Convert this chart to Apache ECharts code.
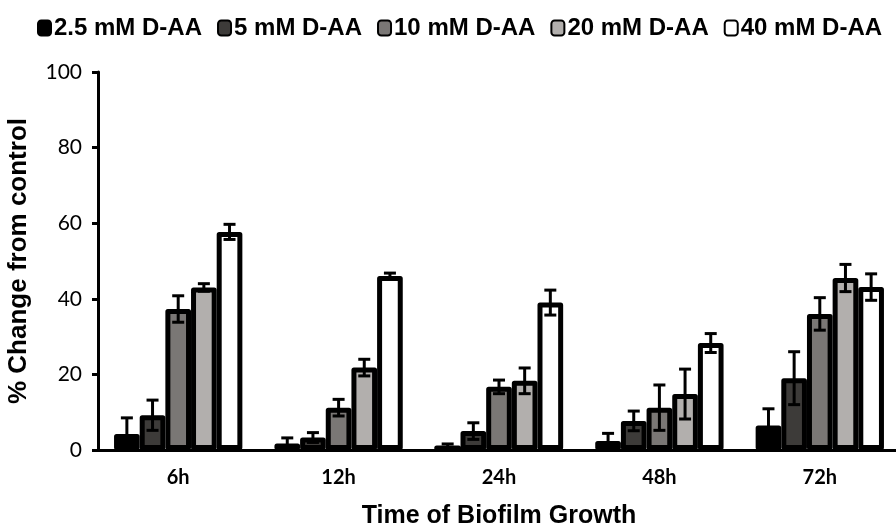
<!DOCTYPE html>
<html>
<head>
<meta charset="utf-8">
<script src="https://cdn.jsdelivr.net/npm/echarts@6/dist/echarts.min.js"></script>
<style>
  html, body { margin: 0; padding: 0; background: #fff; }
  #chart { width: 896px; height: 531px; }
</style>
</head>
<body>
<div id="chart"></div>
<script>
  // time points
  const categories = ['6h', '12h', '24h', '48h', '72h'];
  const seriesNames = ['2.5 mM D-AA', '5 mM D-AA', '10 mM D-AA', '20 mM D-AA', '40 mM D-AA'];

  // mean % change from control
  const mean2_5 = [4.2, 1.7, 1.0, 2.4, 6.5];
  const mean5 = [9.2, 3.3, 5.0, 7.7, 19.0];
  const mean10 = [37.3, 11.2, 16.7, 11.2, 36.0];
  const mean20 = [43.0, 21.8, 18.3, 14.8, 45.5];
  const mean40 = [57.7, 46.0, 39.0, 28.3, 43.1];

  // error (+/-)
  const err2_5 = [4.3, 1.5, 0.6, 2.0, 4.4];
  const err5 = [4.0, 1.3, 2.2, 2.6, 7.0];
  const err10 = [3.5, 2.2, 1.8, 6.0, 4.3];
  const err20 = [1.0, 2.2, 3.4, 6.6, 3.6];
  const err40 = [2.0, 0.8, 3.3, 2.5, 3.5];

  const yTicks = [0, 20, 40, 60, 80, 100];

  const means = [mean2_5, mean5, mean10, mean20, mean40];
  const errs = [err2_5, err5, err10, err20, err40];
  const colors = ['#000000', '#3d3b39', '#7a7775', '#b2afad', '#ffffff'];

  const nBars = means.length;
  const gapRatio = 0.2;

  const chart = echarts.init(document.getElementById('chart'));

  // error bars drawn at the centre of each bar in the group
  const errRender = (si) => (params, api) => {
    const cat = api.value(0);
    const lo = api.coord([cat, api.value(1)]);
    const hi = api.coord([cat, api.value(2)]);
    const band = api.size([1, 0])[0];
    const bw = band * (1 - gapRatio) / nBars;
    const x = lo[0] + (si - (nBars - 1) / 2) * bw;
    const cap = 6;
    const style = { stroke: '#000', lineWidth: 3, fill: null };
    return {
      type: 'group',
      children: [
        { type: 'line', shape: { x1: x, y1: lo[1], x2: x, y2: hi[1] }, style },
        { type: 'line', shape: { x1: x - cap, y1: hi[1], x2: x + cap, y2: hi[1] }, style },
        { type: 'line', shape: { x1: x - cap, y1: lo[1], x2: x + cap, y2: lo[1] }, style }
      ]
    };
  };

  const barSeries = means.map((m, i) => ({
    name: seriesNames[i],
    type: 'bar',
    data: m,
    barGap: '0%',
    barCategoryGap: (gapRatio * 100) + '%',
    itemStyle: {
      color: colors[i],
      borderColor: '#000',
      borderWidth: 5,
      borderJoin: 'round'
    },
    z: 2
  }));

  const errSeries = means.map((m, i) => ({
    type: 'custom',
    renderItem: errRender(i),
    encode: { x: 0, y: [1, 2] },
    data: m.map((v, k) => [k, Math.max(0, v - errs[i][k]), v + errs[i][k]]),
    z: 5,
    silent: true
  }));

  const option = {
    animation: false,
    legend: {
      data: seriesNames,
      top: 11,
      left: 32,
      itemWidth: 13,
      itemHeight: 15,
      itemGap: 15,
      icon: 'roundRect',
      itemStyle: { borderWidth: 2, borderColor: '#000' },
      textStyle: {
        fontFamily: 'Liberation Sans, Arial, sans-serif',
        fontWeight: 'bold',
        fontSize: 24,
        color: '#000',
        padding: [0, 0, 0, -2]
      }
    },
    grid: {
      left: 98,
      right: -4,
      top: 72,
      bottom: 81,
      outerBoundsMode: 'none'
    },
    xAxis: {
      type: 'category',
      data: categories,
      axisLine: { lineStyle: { color: '#000', width: 3 } },
      axisTick: { show: false },
      axisLabel: {
        fontFamily: 'Lato, sans-serif',
        fontWeight: 'bold',
        fontSize: 20,
        color: '#000',
        margin: 18
      },
      name: 'Time of Biofilm Growth',
      nameLocation: 'middle',
      nameGap: 54,
      nameTextStyle: {
        fontFamily: 'Liberation Sans, Arial, sans-serif',
        fontWeight: 'bold',
        fontSize: 25,
        color: '#000',
        verticalAlign: 'top'
      }
    },
    yAxis: {
      type: 'value',
      min: yTicks[0],
      max: yTicks[yTicks.length - 1],
      interval: 20,
      splitLine: { show: false },
      axisLine: { show: true, lineStyle: { color: '#000', width: 3 } },
      axisTick: { show: true, length: 6, lineStyle: { color: '#000', width: 3 } },
      axisLabel: {
        fontFamily: 'Lato, sans-serif',
        fontSize: 21,
        color: '#000',
        margin: 16
      },
      name: '% Change from control',
      nameLocation: 'middle',
      nameGap: 66,
      nameTextStyle: {
        fontFamily: 'Liberation Sans, Arial, sans-serif',
        fontWeight: 'bold',
        fontSize: 26,
        color: '#000'
      }
    },
    series: barSeries.concat(errSeries)
  };

  chart.setOption(option);
</script>
</body>
</html>
